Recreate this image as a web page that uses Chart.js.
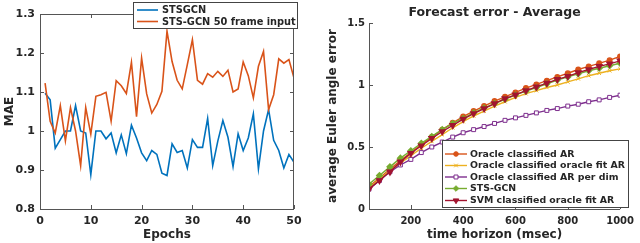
<!DOCTYPE html>
<html lang="en">
<head>
<meta charset="UTF-8">
<title>MAE per epoch / Forecast error</title>
<script src="https://cdn.jsdelivr.net/npm/chart.js"></script>
<style>
  body { margin: 0; background: #fff; }
  .wrap { position: relative; width: 640px; height: 243px; }
  canvas { position: absolute; top: 0; }
  #maeChart { left: 0; }
  #errChart { left: 320px; }
</style>
</head>
<body>
<div class="wrap">
  <canvas id="maeChart" width="320" height="243"></canvas>
  <canvas id="errChart" width="320" height="243"></canvas>
</div>
<script>
// left chart: MAE per epoch
const epochs = [1,2,3,4,5,6,7,8,9,10,11,12,13,14,15,16,17,18,19,20,21,22,23,24,25,
                26,27,28,29,30,31,32,33,34,35,36,37,38,39,40,41,42,43,44,45,46,47,48,49,50];
const stsgcn = [1.097,1.08,0.956,0.978,1.0,1.0,1.065,1.0,0.995,0.888,
                1.0,1.0,0.98,0.995,0.944,0.99,0.942,1.015,0.982,0.944,
                0.924,0.95,0.94,0.892,0.886,0.967,0.945,0.95,0.905,0.978,
                0.958,0.958,1.032,0.911,0.974,1.027,0.984,0.909,0.993,0.95,
                0.982,1.044,0.903,1.0,1.055,0.976,0.95,0.905,0.94,0.92];
const stsgcn50 = [1.123,1.025,0.995,1.065,0.975,1.06,1.0,0.911,1.06,0.992,
                  1.089,1.093,1.099,1.025,1.129,1.116,1.096,1.176,1.037,1.187,
                  1.095,1.046,1.068,1.102,1.256,1.178,1.13,1.108,1.17,1.234,
                  1.13,1.12,1.147,1.138,1.153,1.14,1.156,1.1,1.108,1.177,
                  1.142,1.085,1.166,1.204,1.055,1.093,1.185,1.174,1.183,1.136];

// right chart: forecast error vs horizon
const horizons = [40,80,120,160,200,240,280,320,360,400,440,480,520,560,600,
                  640,680,720,760,800,840,880,920,960,1000];
const horizonTicks = [200,400,600,800,1000];
const oracleAR = [0.18,0.25,0.32,0.39,0.455,0.52,0.58,0.64,0.695,0.745,0.79,0.83,0.87,
                  0.905,0.94,0.975,1.005,1.035,1.065,1.095,1.125,1.15,1.175,1.2,1.23];
const oracleFitAR = [0.17,0.24,0.31,0.37,0.43,0.49,0.545,0.6,0.655,0.705,0.75,0.79,0.83,
                     0.865,0.9,0.93,0.955,0.98,1.0,1.025,1.05,1.075,1.095,1.115,1.13];
const oracleARperDim = [0.16,0.23,0.3,0.355,0.4,0.455,0.5,0.54,0.58,0.615,0.64,0.665,0.69,
                        0.715,0.735,0.755,0.775,0.795,0.81,0.83,0.845,0.865,0.88,0.9,0.918];
const stsGcn = [0.2,0.27,0.34,0.41,0.47,0.53,0.585,0.64,0.69,0.73,0.775,0.815,0.85,
                0.885,0.92,0.95,0.98,1.01,1.04,1.065,1.09,1.115,1.135,1.155,1.175];
const svmFitAR = [0.16,0.23,0.3,0.38,0.45,0.51,0.57,0.625,0.675,0.725,0.77,0.81,0.85,
                  0.89,0.92,0.955,0.985,1.015,1.045,1.07,1.1,1.125,1.15,1.17,1.195];

const FONT = 'DejaVu Sans';
const INK = '#262626';

function pts(xs, ys) { return xs.map((x, i) => ({ x: x, y: ys[i] })); }

function marker(ctx, ds, x, y) {
  if (!ds.pointRadius) return;
  ctx.save();
  ctx.fillStyle = ds.pointBackgroundColor || ds.borderColor;
  ctx.strokeStyle = ds.borderColor;
  ctx.lineWidth = 1;
  if (Chart.helpers && Chart.helpers.drawPoint) {
    Chart.helpers.drawPoint(ctx, {
      pointStyle: ds.pointStyle, radius: ds.pointRadius,
      rotation: ds.pointRotation || 0, borderWidth: 1
    }, x, y);
  } else {
    ctx.beginPath(); ctx.arc(x, y, ds.pointRadius, 0, Math.PI * 2); ctx.fill(); ctx.stroke();
  }
  ctx.restore();
}

// matlab-ish axes: inside ticks, optional box, boxed legend
const matlabAxes = {
  id: 'matlabAxes',
  afterDatasetsDraw(chart, args, o) {
    const { ctx, chartArea: a } = chart;
    const x = chart.scales.x, y = chart.scales.y;
    const len = o.tickLen || 4;
    ctx.save();
    ctx.strokeStyle = o.color || '#555';
    ctx.lineWidth = 1;
    ctx.beginPath();
    ctx.moveTo(a.left + 0.5, a.top);
    ctx.lineTo(a.left + 0.5, a.bottom + 0.5);
    ctx.lineTo(a.right, a.bottom + 0.5);
    if (o.box) {
      ctx.moveTo(a.right - 0.5, a.bottom);
      ctx.lineTo(a.right - 0.5, a.top + 0.5);
      ctx.lineTo(a.left, a.top + 0.5);
    }
    x.ticks.forEach(t => {
      const p = Math.round(x.getPixelForValue(t.value)) + 0.5;
      ctx.moveTo(p, a.bottom); ctx.lineTo(p, a.bottom - len);
      if (o.box) { ctx.moveTo(p, a.top); ctx.lineTo(p, a.top + len); }
    });
    y.ticks.forEach(t => {
      const p = Math.round(y.getPixelForValue(t.value)) + 0.5;
      ctx.moveTo(a.left, p); ctx.lineTo(a.left + len, p);
      if (o.box) { ctx.moveTo(a.right, p); ctx.lineTo(a.right - len, p); }
    });
    ctx.stroke();
    ctx.restore();
  },
  afterDraw(chart, args, o) {
    const lg = o.legend;
    if (!lg) return;
    const ctx = chart.ctx;
    ctx.save();
    ctx.fillStyle = '#fff';
    ctx.fillRect(lg.x, lg.y, lg.w, lg.h);
    ctx.strokeStyle = '#444';
    ctx.lineWidth = 1;
    ctx.strokeRect(lg.x + 0.5, lg.y + 0.5, lg.w - 1, lg.h - 1);
    ctx.font = 'bold ' + lg.size + 'px "' + FONT + '"';
    ctx.textBaseline = 'middle';
    chart.data.datasets.forEach((ds, i) => {
      const ry = lg.rows[i];
      ctx.strokeStyle = ds.borderColor;
      ctx.lineWidth = ds.borderWidth;
      ctx.beginPath();
      ctx.moveTo(lg.line[0], ry); ctx.lineTo(lg.line[1], ry);
      ctx.stroke();
      marker(ctx, ds, (lg.line[0] + lg.line[1]) / 2, ry);
      ctx.fillStyle = INK;
      ctx.fillText(ds.label, lg.textX, ry + 0.5);
    });
    ctx.restore();
  }
};

function tickFont(size) { return { family: FONT, size: size, weight: 'bold' }; }

new Chart(document.getElementById('maeChart'), {
  type: 'line',
  data: {
    datasets: [
      { label: 'STSGCN', data: pts(epochs, stsgcn), borderColor: '#0072BD',
        borderWidth: 1.6, pointRadius: 0, order: 2 },
      { label: 'STS-GCN 50 frame input', data: pts(epochs, stsgcn50), borderColor: '#D95319',
        borderWidth: 1.6, pointRadius: 0, order: 1 }
    ]
  },
  plugins: [matlabAxes],
  options: {
    responsive: false, animation: false,
    layout: { padding: { top: 14, right: 26, left: 0, bottom: 0 } },
    scales: {
      x: {
        type: 'linear', min: 0, max: 50,
        afterFit: s => { s.height = 34; },
        grid: { display: false, drawTicks: false }, border: { display: false },
        ticks: { stepSize: 10, padding: 6, color: INK, font: tickFont(11), maxRotation: 0,
                 callback: v => String(v) },
        title: { display: true, text: 'Epochs', color: INK, padding: { top: 0, bottom: 1 },
                 font: { family: FONT, size: 12, weight: 'bold' } }
      },
      y: {
        min: 0.8, max: 1.3,
        afterFit: s => { s.width = 40; },
        grid: { display: false, drawTicks: false }, border: { display: false },
        ticks: { stepSize: 0.1, padding: 5, color: INK, font: tickFont(11),
                 callback: v => Number(v.toFixed(1)) },
        title: { display: true, text: 'MAE', color: INK, padding: { top: 3, bottom: 0 },
                 font: { family: FONT, size: 12, weight: 'bold' } }
      }
    },
    plugins: {
      legend: { display: false }, tooltip: { enabled: false },
      matlabAxes: {
        box: true, tickLen: 4,
        legend: { x: 133, y: 2, w: 165, h: 27, size: 9.8, rows: [10, 21.5], line: [137, 158], textX: 162 }
      }
    }
  }
});

new Chart(document.getElementById('errChart'), {
  type: 'line',
  data: {
    datasets: [
      { label: 'Oracle classified AR', data: pts(horizons, oracleAR), borderColor: '#D95319',
        borderWidth: 1.4, pointStyle: 'circle', pointRadius: 2.3, pointBackgroundColor: '#D95319',
        pointBorderColor: '#D95319', order: 5 },
      { label: 'Oracle classified oracle fit AR', data: pts(horizons, oracleFitAR), borderColor: '#EDB120',
        borderWidth: 1.4, pointStyle: 'crossRot', pointRadius: 2.5, pointBorderColor: '#EDB120',
        pointBorderWidth: 1, order: 4 },
      { label: 'Oracle classified AR per dim', data: pts(horizons, oracleARperDim), borderColor: '#7E2F8E',
        borderWidth: 1.4, pointStyle: 'rect', pointRadius: 2.8, pointBackgroundColor: '#fff',
        pointBorderColor: '#7E2F8E', pointBorderWidth: 1, order: 3 },
      { label: 'STS-GCN', data: pts(horizons, stsGcn), borderColor: '#77AC30',
        borderWidth: 1.4, pointStyle: 'rectRot', pointRadius: 2.8, pointBackgroundColor: '#77AC30',
        pointBorderColor: '#77AC30', order: 2 },
      { label: 'SVM classified oracle fit AR', data: pts(horizons, svmFitAR), borderColor: '#A2142F',
        borderWidth: 1.4, pointStyle: 'triangle', pointRotation: 180, pointRadius: 3.2,
        pointBackgroundColor: '#A2142F', pointBorderColor: '#A2142F', order: 1 }
    ]
  },
  plugins: [matlabAxes],
  options: {
    responsive: false, animation: false,
    layout: { padding: { top: 0, right: 16, left: 0, bottom: 0 } },
    scales: {
      x: {
        type: 'linear', min: 40, max: 1000,
        afterFit: s => { s.height = 34; },
        afterBuildTicks: s => { s.ticks = horizonTicks.map(v => ({ value: v })); },
        grid: { display: false, drawTicks: false }, border: { display: false },
        ticks: { padding: 6, color: INK, font: tickFont(10), maxRotation: 0, autoSkip: false,
                 callback: v => String(v) },
        title: { display: true, text: 'time horizon (msec)', color: INK, padding: { top: 0, bottom: 1 },
                 font: { family: FONT, size: 12, weight: 'bold' } }
      },
      y: {
        min: 0, max: 1.5,
        afterFit: s => { s.width = 49; },
        grid: { display: false, drawTicks: false }, border: { display: false },
        ticks: { stepSize: 0.5, padding: 4, color: INK, font: tickFont(10),
                 callback: v => Number(v.toFixed(1)) },
        title: { display: true, text: 'average Euler angle error', color: INK, padding: { top: 6, bottom: 0 },
                 font: { family: FONT, size: 12, weight: 'bold' } }
      }
    },
    plugins: {
      legend: { display: false }, tooltip: { enabled: false },
      title: { display: true, text: 'Forecast error - Average', color: INK, fullSize: false,
               padding: { top: 5, bottom: 3 }, font: { family: FONT, size: 12.5, weight: 'bold' } },
      matlabAxes: {
        box: false, tickLen: 4,
        legend: { x: 122, y: 140, w: 187, h: 68, size: 9.4,
                  rows: [154, 165.5, 177, 188.5, 200.5], line: [125, 147], textX: 150 }
      }
    }
  }
});
</script>
</body>
</html>
